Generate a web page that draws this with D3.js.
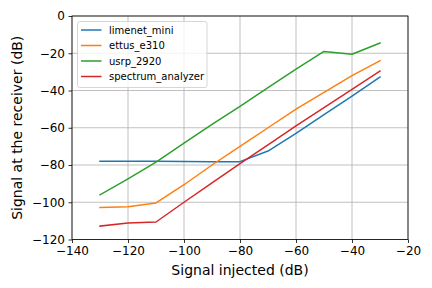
<!DOCTYPE html>
<html><head><meta charset="utf-8">
<script src="https://cdn.jsdelivr.net/npm/d3@7"></script>
<style>body{margin:0;background:#fff}svg{display:block}text{font-family:"DejaVu Sans",sans-serif}</style>
</head><body>
<svg id="c" width="432" height="288"></svg>
<script>
const xValues = [-130,-120,-110,-100,-90,-80,-70,-60,-50,-40,-30];
const limenetMini = [-78,-78,-78,-78.1,-78.3,-78.2,-72.5,-63,-53,-43,-32.8];
const ettusE310 = [-102.8,-102.4,-100.4,-90.6,-80,-70,-60,-50,-41,-32,-24];
const usrp2920 = [-96,-87.4,-78.4,-68.3,-58.2,-48.5,-38.5,-28.5,-19,-20.5,-14.5];
const spectrumAnalyzer = [-112.8,-111.2,-110.6,-100,-89.6,-79.3,-69.2,-59,-49.2,-39.4,-29.6];
const seriesNames = ["limenet_mini","ettus_e310","usrp_2920","spectrum_analyzer"];
const seriesValues = [limenetMini, ettusE310, usrp2920, spectrumAnalyzer];
const xTicks = [-140,-120,-100,-80,-60,-40,-20];
const yTicks = [-120,-100,-80,-60,-40,-20,0];
const colors = ["#1f77b4","#ff7f0e","#2ca02c","#d62728"];

const svg = d3.select("#c");
const L=72, R=408, T=16, B=239.5;
const x = d3.scaleLinear().domain([-140,-20]).range([L,R]);
const y = d3.scaleLinear().domain([-120,0]).range([B,T]);

// grid
const g = svg.append("g");
g.selectAll("line.gx").data(xTicks).join("line")
  .attr("x1",d=>x(d)).attr("x2",d=>x(d)).attr("y1",T).attr("y2",B)
  .attr("stroke","#b0b0b0").attr("stroke-width",0.8);
g.selectAll("line.gy").data(yTicks).join("line")
  .attr("y1",d=>y(d)).attr("y2",d=>y(d)).attr("x1",L).attr("x2",R)
  .attr("stroke","#b0b0b0").attr("stroke-width",0.8);

// lines
const line = d3.line().x((d,i)=>x(xValues[i])).y(d=>y(d));
seriesValues.forEach((s,k)=>{
  svg.append("path").datum(s).attr("d",line).attr("fill","none")
    .attr("stroke",colors[k]).attr("stroke-width",1.5).attr("stroke-linejoin","round").attr("stroke-linecap","square");
});

// axes
const xa = svg.append("g").attr("transform",`translate(0,${B})`)
  .call(d3.axisBottom(x).tickValues(xTicks).tickSize(3.5).tickPadding(3.5).tickFormat(d=>d3.format("")(d).replace("-","\u2212")));
const ya = svg.append("g").attr("transform",`translate(${L},0)`)
  .call(d3.axisLeft(y).tickValues(yTicks).tickSize(3.5).tickPadding(3.5).tickFormat(d=>d3.format("")(d).replace("-","\u2212")));
[xa,ya].forEach(a=>{
  a.select(".domain").remove();
  a.selectAll("text").attr("font-size",12).attr("font-family","DejaVu Sans").attr("fill","#000");
  a.selectAll("line").attr("stroke","#000").attr("stroke-width",0.8);
});
// frame
svg.append("rect").attr("x",L).attr("y",T).attr("width",R-L).attr("height",B-T)
  .attr("fill","none").attr("stroke","#000").attr("stroke-width",0.8);

// labels
svg.append("text").attr("x",(L+R)/2).attr("y",275).attr("text-anchor","middle")
  .attr("font-size",14).text("Signal injected (dB)");
svg.append("text").attr("transform",`translate(22,${(T+B)/2}) rotate(-90)`).attr("text-anchor","middle")
  .attr("font-size",14).text("Signal at the receiver (dB)");

// legend
const lg = svg.append("g");
lg.append("rect").attr("x",77.5).attr("y",21.5).attr("width",129.5).attr("height",66).attr("rx",2)
  .attr("fill","#fff").attr("fill-opacity",0.8).attr("stroke","#cccccc").attr("stroke-width",0.8);
seriesNames.forEach((n,k)=>{
  const yy = 30 + k*15.5;
  lg.append("line").attr("x1",81).attr("x2",101.5).attr("y1",yy).attr("y2",yy)
    .attr("stroke",colors[k]).attr("stroke-width",1.5);
  lg.append("text").attr("x",109).attr("y",yy+3.6).attr("font-size",10).text(n);
});
</script>
</body></html>
